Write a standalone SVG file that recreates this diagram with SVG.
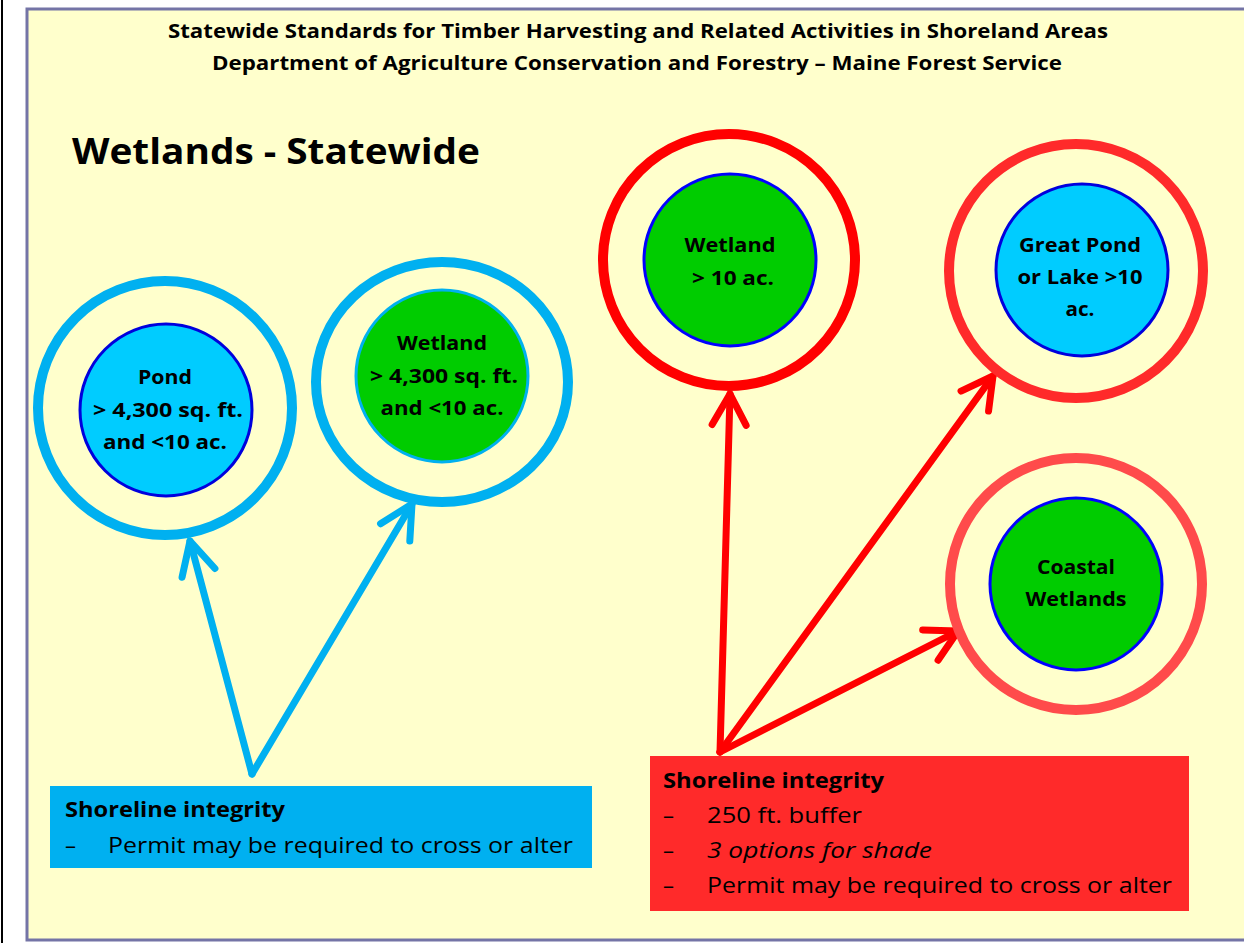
<svg xmlns="http://www.w3.org/2000/svg" width="1244" height="943" viewBox="0 0 1244 943">
<style>
text{font-family:"Open Sans","Noto Sans","Liberation Sans",sans-serif;fill:#000}
.b{font-weight:bold}
.h{font-size:20px;font-weight:bold;text-anchor:middle}
.t{font-size:35px;font-weight:bold}
.c{font-size:20px;font-weight:bold;text-anchor:middle}
.x{font-size:22px}
.ringB{fill:none;stroke:#00b0f0;stroke-width:10}
.ringR1{fill:none;stroke:#ff0000;stroke-width:10}
.ringR2{fill:none;stroke:#ff2a2a;stroke-width:10}
.ringR3{fill:none;stroke:#ff4b4b;stroke-width:10}
.water{fill:#00ccff;stroke:#0000dd;stroke-width:3}
.green{fill:#00cc00;stroke:#0000ff;stroke-width:3}
.arB{fill:none;stroke:#00b0f0;stroke-width:7;stroke-linecap:round;marker-end:url(#mB)}
.arR{fill:none;stroke:#ff0000;stroke-width:7;stroke-linecap:round;marker-end:url(#mR)}
</style>
<defs>
<marker id="mB" markerUnits="userSpaceOnUse" orient="auto" refX="0" refY="0" markerWidth="80" markerHeight="80" overflow="visible">
<path d="M-33,-17 L0,0 L-33,17" fill="none" stroke="#00b0f0" stroke-width="7" stroke-linecap="round" stroke-linejoin="round"/>
</marker>
<marker id="mR" markerUnits="userSpaceOnUse" orient="auto" refX="0" refY="0" markerWidth="80" markerHeight="80" overflow="visible">
<path d="M-31,-17 L0,0 L-31,17" fill="none" stroke="#ff0000" stroke-width="7" stroke-linecap="round" stroke-linejoin="round"/>
</marker>
</defs>
<rect x="0" y="0" width="1244" height="943" fill="#ffffff"/>
<line x1="2" y1="0" x2="2" y2="943" stroke="#000" stroke-width="2"/>
<rect x="27" y="9" width="1240" height="931" fill="#ffffcc" stroke="#7474a6" stroke-width="3"/>

<g id="header">
<text class="h" x="638" y="38" textLength="940" lengthAdjust="spacingAndGlyphs">Statewide Standards for Timber Harvesting and Related Activities in Shoreland Areas</text>
<text class="h" x="637" y="70" textLength="850" lengthAdjust="spacingAndGlyphs">Department of Agriculture Conservation and Forestry – Maine Forest Service</text>
</g>
<g id="title">
<text class="t" x="72" y="164" textLength="408" lengthAdjust="spacingAndGlyphs">Wetlands - Statewide</text>
</g>

<g id="connectors">
<path class="arB" d="M252,774 L190,541"/>
<path class="arB" d="M252,774 L412,504"/>
<path class="arR" d="M720,752 L730,394"/>
<path class="arR" d="M720,752 L993,376"/>
<path class="arR" d="M720,752 L958,631"/>
</g>

<g id="pond">
<circle class="ringB" cx="165" cy="408" r="127"/>
<circle class="water" cx="166" cy="410" r="86"/>
<text class="c" x="165" y="384" textLength="54" lengthAdjust="spacingAndGlyphs">Pond</text>
<text class="c" x="168" y="417" textLength="150" lengthAdjust="spacingAndGlyphs">&gt; 4,300 sq. ft.</text>
<text class="c" x="165" y="449" textLength="124" lengthAdjust="spacingAndGlyphs">and &lt;10 ac.</text>
</g>

<g id="wetland-small">
<ellipse class="ringB" cx="442" cy="382" rx="126" ry="120"/>
<circle class="green" style="stroke:#00b0f0" cx="442" cy="376" r="86"/>
<text class="c" x="442" y="350" textLength="90" lengthAdjust="spacingAndGlyphs">Wetland</text>
<text class="c" x="444" y="383" textLength="148" lengthAdjust="spacingAndGlyphs">&gt; 4,300 sq. ft.</text>
<text class="c" x="442" y="415" textLength="123" lengthAdjust="spacingAndGlyphs">and &lt;10 ac.</text>
</g>

<g id="wetland-large">
<circle class="ringR1" cx="729" cy="260" r="126"/>
<circle class="green" cx="730" cy="260" r="86"/>
<text class="c" x="730" y="252" textLength="91" lengthAdjust="spacingAndGlyphs">Wetland</text>
<text class="c" x="733" y="285" textLength="82" lengthAdjust="spacingAndGlyphs">&gt; 10 ac.</text>
</g>

<g id="great-pond">
<circle class="ringR2" cx="1076" cy="271" r="127"/>
<circle class="water" cx="1082" cy="270" r="86"/>
<text class="c" x="1080" y="252" textLength="122" lengthAdjust="spacingAndGlyphs">Great Pond</text>
<text class="c" x="1080" y="284" textLength="125" lengthAdjust="spacingAndGlyphs">or Lake &gt;10</text>
<text class="c" x="1080" y="316" textLength="29" lengthAdjust="spacingAndGlyphs">ac.</text>
</g>

<g id="coastal">
<circle class="ringR3" cx="1076" cy="584" r="126"/>
<circle class="green" cx="1076" cy="584" r="86"/>
<text class="c" x="1076" y="574" textLength="78" lengthAdjust="spacingAndGlyphs">Coastal</text>
<text class="c" x="1076" y="606" textLength="101" lengthAdjust="spacingAndGlyphs">Wetlands</text>
</g>

<g id="blue-box">
<rect x="50" y="786" width="542" height="82" fill="#00b0f0"/>
<text class="x b" x="65" y="817" textLength="220" lengthAdjust="spacingAndGlyphs">Shoreline integrity</text>
<text class="x" x="65" y="853">–</text>
<text class="x" x="108" y="853" textLength="465" lengthAdjust="spacingAndGlyphs">Permit may be required to cross or alter</text>
</g>

<g id="red-box">
<rect x="650" y="756" width="539" height="155" fill="#ff2a2a"/>
<text class="x b" x="663" y="788" textLength="221" lengthAdjust="spacingAndGlyphs">Shoreline integrity</text>
<text class="x" x="663" y="823">–</text>
<text class="x" x="707" y="823" textLength="155" lengthAdjust="spacingAndGlyphs">250 ft. buffer</text>
<text class="x" x="663" y="858">–</text>
<text class="x" x="707" y="858" font-style="italic" textLength="225" lengthAdjust="spacingAndGlyphs">3 options for shade</text>
<text class="x" x="663" y="893">–</text>
<text class="x" x="707" y="893" textLength="465" lengthAdjust="spacingAndGlyphs">Permit may be required to cross or alter</text>
</g>
</svg>
